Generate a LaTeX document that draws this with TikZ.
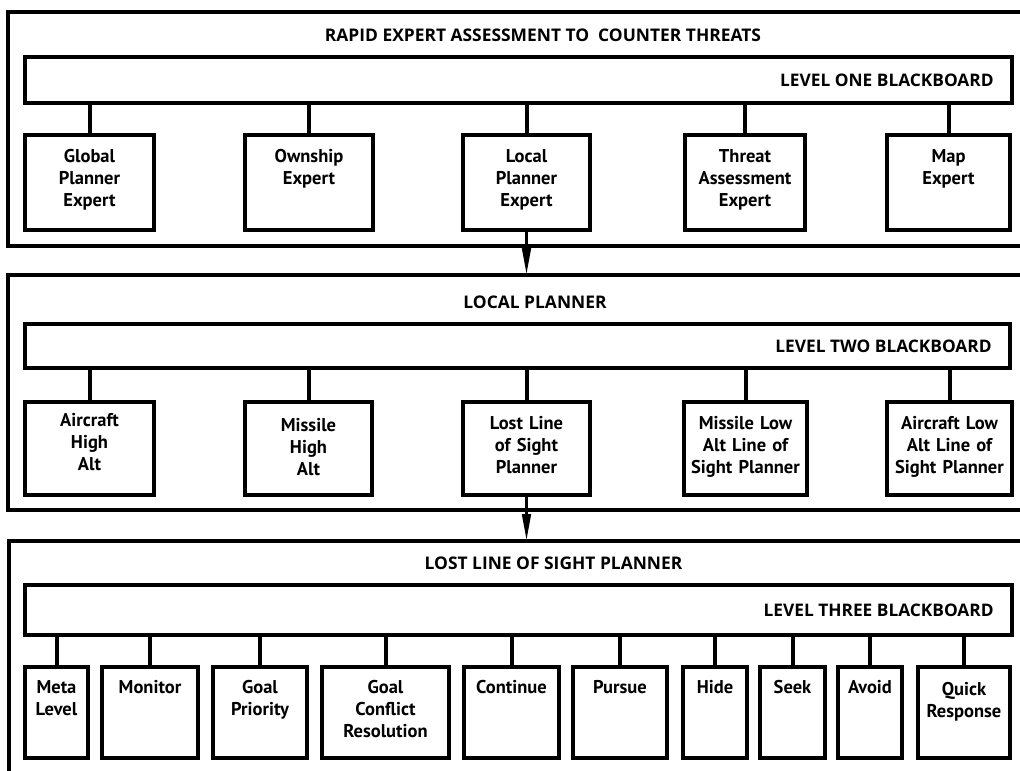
\documentclass[tikz,border=0pt]{standalone}
\usepackage{fontspec}
\setmainfont{Open Sans}
\newfontfamily\modfont{PT Sans}
\usetikzlibrary{arrows.meta,fit}

\tikzset{
  panel/.style={line width=3.8pt, line cap=rect},
  board/.style={draw, line width=3.6pt, inner sep=0pt},
  modbox/.style={draw, line width=3.6pt, inner sep=0pt},
  link/.style={line width=4pt},
  flow/.style={line width=3.2pt, -{Triangle[width=8.5pt,length=27pt]}},
  boxtext/.style={font=\modfont\bfseries\fontsize{18.5}{22}\selectfont, text width=150pt,
                  align=center, inner sep=0pt, anchor=base},
  headtext/.style={font=\bfseries\fontsize{17.4}{20}\selectfont, inner sep=0pt, anchor=base},
  boardtext/.style={font=\bfseries\fontsize{17.3}{20}\selectfont, inner sep=0pt, anchor=east, xshift=-20pt},
}

% a module box hanging from a blackboard, caption set from the top
% #1 name, #2-#5 corners, #6 blackboard, #7 caption, #8 caption drop
\newcommand{\modulebox}[8]{%
  \node[modbox, fit={(#2,#3) (#4,#5)}] (#1) {};
  \node[boxtext] (#1-t) at ([yshift=-#8pt]#1.north) {#7};
  \draw[link] (#1.north) -- (#1.north |- #6.south);
}

\begin{document}
\begin{tikzpicture}[x=1pt,y=-1pt]
\useasboundingbox (0,0) rectangle (1020,771);
\fill[white] (0,0) rectangle (1020,771);

% ---------- level one ----------
\draw[panel] (1030,12) -- (8,12) -- (8,246) -- (1030,246);
\node[headtext] (title1) at (543,41.5) {RAPID EXPERT ASSESSMENT TO\ \ COUNTER THREATS};
\node[board, fit={(25,57) (1012,103)}] (b1) {};
\node[boardtext] (b1-t) at (b1.east) {LEVEL ONE BLACKBOARD};
\modulebox{g1}{25}{135}{154}{230}{b1}{Global\\Planner\\Expert}{29}
\modulebox{g2}{245}{135}{373}{230}{b1}{Ownship\\Expert}{29}
\modulebox{g3}{463}{135}{590}{230}{b1}{Local\\Planner\\Expert}{29}
\modulebox{g4}{685}{135}{805}{230}{b1}{Threat\\Assessment\\Expert}{29}
\modulebox{g5}{887}{135}{1010}{230}{b1}{Map\\Expert}{29}

% ---------- level two ----------
\draw[panel] (1030,275) -- (8,275) -- (8,510) -- (1030,510);
\coordinate (p2top) at (526,275);
\node[headtext] (title2) at (535,308) {LOCAL PLANNER};
\node[board, fit={(25,324) (1010,368)}] (b2) {};
\node[boardtext] (b2-t) at (b2.east) {LEVEL TWO BLACKBOARD};
\modulebox{h1}{25}{402}{154}{495}{b2}{Aircraft\\High\\Alt}{26}
\modulebox{h2}{245}{402}{372}{495}{b2}{Missile\\High\\Alt}{31}
\modulebox{h3}{463}{402}{590}{495}{b2}{Lost Line\\of Sight\\Planner}{29}
\modulebox{h4}{684}{402}{807}{495}{b2}{Missile Low\\Alt Line of\\Sight Planner}{29}
\modulebox{h5}{887}{402}{1012}{495}{b2}{Aircraft Low\\Alt Line of\\Sight Planner}{29}

% ---------- level three ----------
\draw[panel] (1030,541) -- (9,541) -- (9,790);
\coordinate (p3top) at (526,541);
\node[headtext] (title3) at (553.5,569) {LOST LINE OF SIGHT PLANNER};
\node[board, fit={(25,585) (1012,635)}] (b3) {};
\node[boardtext] (b3-t) at (b3.east) {LEVEL THREE BLACKBOARD};
\modulebox{k1}{25}{667}{88}{758}{b3}{Meta\\Level}{28}
\modulebox{k2}{102}{667}{198}{758}{b3}{Monitor}{28}
\modulebox{k3}{213}{667}{307}{758}{b3}{Goal\\Priority}{28}
\modulebox{k4}{322}{667}{449}{758}{b3}{Goal\\Conflict\\Resolution}{28}
\modulebox{k5}{464}{667}{559}{758}{b3}{Continue}{28}
\modulebox{k6}{573}{667}{667}{758}{b3}{Pursue}{28}
\modulebox{k7}{683}{667}{747}{758}{b3}{Hide}{28}
\modulebox{k8}{760}{667}{825}{758}{b3}{Seek}{28}
\modulebox{k9}{838}{667}{902}{758}{b3}{Avoid}{28}
\modulebox{k10}{918}{667}{1010}{758}{b3}{Quick\\Response}{30}

% ---------- hand-offs between levels ----------
\draw[flow] (g3.south) -- (g3.south |- p2top);
\draw[flow] (h3.south) -- (h3.south |- p3top);
\end{tikzpicture}
\end{document}
